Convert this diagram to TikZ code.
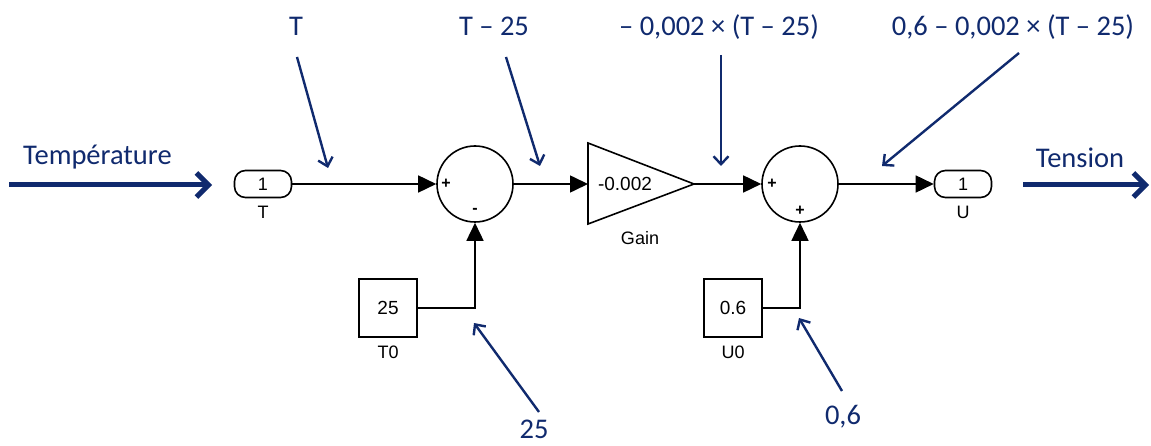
\documentclass[tikz,border=0pt]{standalone}
\usepackage{fontspec}
\newfontfamily\notefont{Carlito}
\newfontfamily\simfont{Liberation Sans}
\usetikzlibrary{arrows.meta}
\definecolor{navy}{RGB}{16,42,110}

\begin{document}
\begin{tikzpicture}[x=1pt,y=-1pt,
    blk/.style={draw,line width=1.6pt,minimum width=58pt,minimum height=58pt,inner sep=0pt,font=\simfont\fontsize{19}{22}\selectfont},
    port/.style={draw,line width=1.6pt,rounded corners=11pt,minimum width=57pt,minimum height=27pt,inner sep=0pt,font=\simfont\fontsize{18}{20}\selectfont},
    sum/.style={draw,circle,line width=1.6pt,minimum size=76pt,inner sep=0pt},
    lbl/.style={font=\simfont\fontsize{18}{20}\selectfont,inner sep=0pt},
    sgn/.style={font=\simfont\bfseries\fontsize{16}{18}\selectfont,inner sep=0pt},
    sig/.style={line width=1.6pt,-{Triangle[length=18pt,width=17pt]}},
    note/.style={navy,line width=2.4pt,-{Straight Barb[length=8pt,width=15pt]}},
    big/.style={navy,line width=5pt,-{Straight Barb[length=12pt,width=24pt]}},
    txt/.style={navy,font=\notefont\fontsize{28.5}{32}\selectfont,inner sep=0pt,anchor=base}]
    \useasboundingbox (0,0) rectangle (1151,446);

    % simulink blocks
    \node[port] (inT) at (263,184) {1};
    \node[lbl] (inTl) at (263,212) {T};
    \node[sum] (sumA) at (475,184) {};
    \node[sgn] at (446,184) {+};
    \node[sgn] at (475,211) {-};
    \node[blk] (cT0) at (388,308) {25};
    \node[lbl] (cT0l) at (388,352) {T0};
    \draw[line width=1.6pt] (588,143) -- (694,184) -- (588,224) -- cycle;
    \coordinate (gIn) at (588,184);
    \coordinate (gOut) at (694,184);
    \node[lbl,font=\simfont\fontsize{19}{22}\selectfont] (gv) at (625,184) {-0.002};
    \node[lbl] (gain) at (640,238) {Gain};
    \node[sum] (sumB) at (800,184) {};
    \node[sgn] at (772,184) {+};
    \node[sgn] at (800,211) {+};
    \node[blk] (cU0) at (733,308) {0.6};
    \node[lbl] (cU0l) at (733,352) {U0};
    \node[port] (outU) at (963,184) {1};
    \node[lbl] (outUl) at (963,212) {U};

    \draw[sig] (inT) -- (sumA);
    \draw[sig] (sumA) -- (gIn);
    \draw[sig] (gOut) -- (sumB);
    \draw[sig] (sumB) -- (outU);
    \draw[sig] (cT0) -| (sumA);
    \draw[sig] (cU0) -| (sumB);

    % input / output
    \node[txt,anchor=base west] (temp) at (23,165) {Température};
    \node[txt] (tens) at (1080,168) {Tension};
    \coordinate (tA) at (9,185);
    \coordinate (tB) at (212,185);
    \coordinate (uA) at (1023,185);
    \coordinate (uB) at (1149,185);
    \draw[big] (tA) -- (tB);
    \draw[big] (uA) -- (uB);

    % annotations
    \node[txt] (nT) at (296,36) {T};
    \node[txt] (nD) at (494,36) {T – 25};
    \node[txt] (nG) at (719,36) {– 0,002 × (T – 25)};
    \node[txt] (nU) at (1013,36) {0,6 – 0,002 × (T – 25)};
    \node[txt] (n25) at (534,438) {25};
    \node[txt] (n06) at (843,424) {0,6};
    \coordinate (pT) at (328,168);
    \coordinate (pD) at (540,166);
    \coordinate (pG) at (721,166);
    \coordinate (pU) at (882,166);
    \coordinate (p25) at (474,323);
    \coordinate (p06) at (799,318);
    \draw[note] ([xshift=1pt,yshift=-21pt]nT.base) -- (pT);
    \draw[note] ([xshift=12pt,yshift=-21pt]nD.base) -- (pD);
    \draw[note] ([xshift=2pt,yshift=-19pt]nG.base) -- (pG);
    \draw[note] ([xshift=6pt,yshift=-17pt]nU.base) -- (pU);
    \draw[note] ([xshift=5pt,yshift=26pt]n25.base) -- (p25);
    \draw[note] ([xshift=-1pt,yshift=33pt]n06.base) -- (p06);
\end{tikzpicture}
\end{document}
